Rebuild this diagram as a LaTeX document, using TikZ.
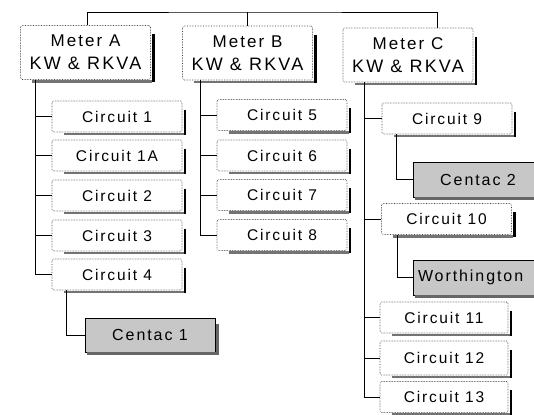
\documentclass[tikz,border=0pt]{standalone}
\usepackage{fontspec}
\newfontfamily\boxfont{Liberation Sans}[LetterSpace=12]
\usetikzlibrary{positioning}

\tikzset{
  meterbox/.style={draw=black!75, densely dotted, line width=0.6pt, fill=white, rounded corners=1.5pt,
    minimum width=130pt, minimum height=54pt, align=center, inner sep=0pt,
    font=\boxfont\fontsize{17}{23}\selectfont},
  circbox/.style={draw=black!75, densely dotted, line width=0.6pt, fill=white, rounded corners=1.5pt,
    minimum width=130pt, minimum height=31pt, inner sep=0pt,
    font=\boxfont\fontsize{15.5}{17}\selectfont},
  unitbox/.style={draw=black, line width=0.9pt, fill=black!22,
    minimum width=130pt, minimum height=34pt, inner sep=0pt,
    font=\boxfont\fontsize{16}{18}\selectfont},
  link/.style={draw=black, line width=0.7pt}
}

\begin{document}
\begin{tikzpicture}[x=1pt, y=-1pt]
\clip (0,0) rectangle (534,414);

% meters
\node[meterbox] (ma) at (85.5,52.5) {Meter A\\{\fontsize{18}{23}\selectfont KW \& RKVA}};
\node[meterbox] (mb) at (247.5,53) {Meter B\\{\fontsize{18}{23}\selectfont KW \& RKVA}};
\node[meterbox] (mc) at (408,55) {Meter C\\{\fontsize{18}{23}\selectfont KW \& RKVA}};

% circuits under meter A
\node[circbox] (c1) at (117,116.5) {Circuit 1};
\node[circbox] (c1a) at (117,155.5) {Circuit 1A};
\node[circbox] (c2) at (117,195.5) {Circuit 2};
\node[circbox] (c3) at (117,235.5) {Circuit 3};
\node[circbox] (c4) at (117,274.5) {Circuit 4};

% circuits under meter B
\node[circbox] (c5) at (282,115) {Circuit 5};
\node[circbox] (c6) at (282,155.5) {Circuit 6};
\node[circbox] (c7) at (282,195) {Circuit 7};
\node[circbox] (c8) at (282,235) {Circuit 8};

% circuits under meter C
\node[circbox] (c9) at (447,118.5) {Circuit 9};
\node[circbox] (c10) at (446.5,219) {Circuit 10};
\node[circbox, minimum width=128pt] (c11) at (444,317.5) {Circuit 11};
\node[circbox, minimum width=128pt, minimum height=34pt] (c12) at (444,358) {Circuit 12};
\node[circbox, minimum width=128pt] (c13) at (444,397) {Circuit 13};

% chillers
\node[unitbox] (ct1) at (150,335) {Centac 1};
\node[unitbox, minimum height=35pt] (ct2) at (478,179.5) {Centac 2};
\node[unitbox, minimum height=35pt, text width=120pt, align=left] (wt) at (478,277.5) {Worthington};

% shadows
\foreach \n in {ma,mb,mc,c1,c1a,c2,c3,c4,c5,c6,c7,c8,c9,c10,c11,c12,c13}{
  \draw[black, line width=2.5pt] ([xshift=2.5pt,yshift=-9pt]\n.north east) -- ([xshift=2.5pt,yshift=-2.5pt]\n.south east);
  \draw[black!55, line width=2.5pt] ([xshift=12pt,yshift=-1.5pt]\n.south west) -- ([xshift=1.3pt,yshift=-1.5pt]\n.south east);
}
\foreach \n in {ct1,ct2,wt}{
  \draw[black!60, line width=3pt] ([xshift=2pt,yshift=-6pt]\n.north east) -- ([xshift=2pt,yshift=-2pt]\n.south east);
  \draw[black!60, line width=3pt] ([xshift=2pt,yshift=-1.5pt]\n.south west) -- ([xshift=3.5pt,yshift=-1.5pt]\n.south east);
}

% top bus
\coordinate (bus) at (248,12);
\draw[link] ([xshift=1.5pt]ma.north) |- (bus) -| ([xshift=29pt]mc.north);
\draw[link] (mb.north) -- (mb.north |- bus);

% branches
\foreach \n in {c1,c1a,c2,c3,c4}
  \draw[link] ([xshift=15pt]ma.south west) |- (\n.west);
\foreach \n in {c5,c6,c7,c8}
  \draw[link] ([xshift=18pt]mb.south west) |- (\n.west);
\foreach \n in {c9,c10,c11,c12,c13}
  \draw[link] ([xshift=22pt]mc.south west) |- (\n.west);
\draw[link] ([xshift=15pt]c4.south west) |- (ct1.west);
\draw[link] ([xshift=15pt]c9.south west) |- (ct2.west);
\draw[link] ([xshift=16pt]c10.south west) |- (wt.west);
\end{tikzpicture}
\end{document}
